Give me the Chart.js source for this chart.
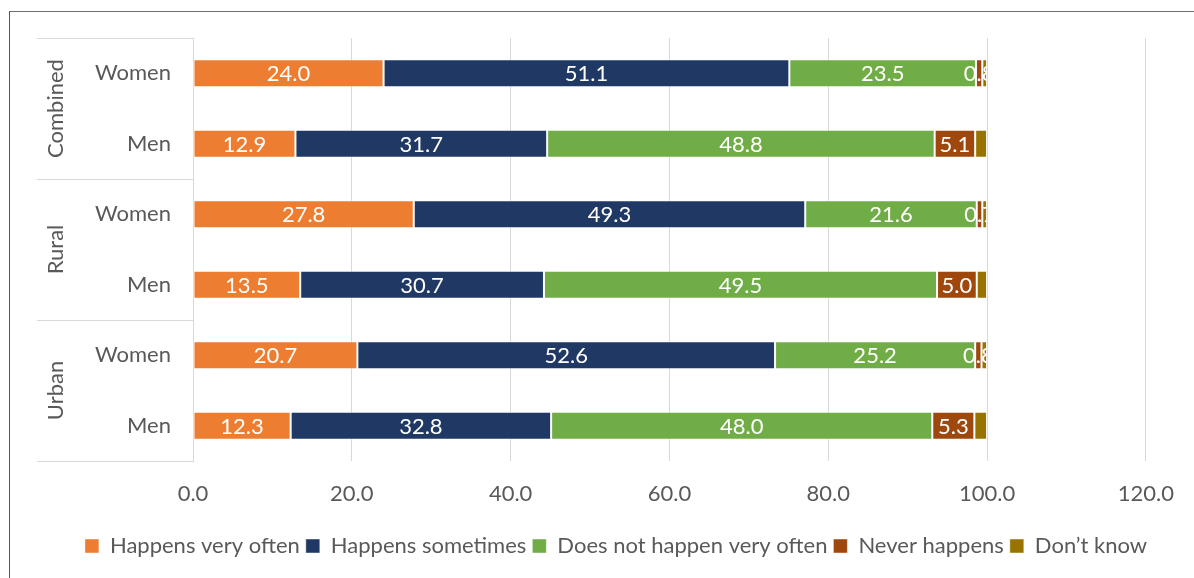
<!DOCTYPE html>
<html>
<head>
<meta charset="utf-8">
<script src="https://cdn.jsdelivr.net/npm/chart.js@4"></script>
<style>
  html, body { margin: 0; padding: 0; background: #fff; overflow: hidden; }
  #wrap { position: relative; width: 1194px; height: 578px; }
  #frame {
    position: absolute; left: 9px; top: 11px; width: 1200px; height: 600px;
    border-left: 1px solid #555; border-top: 1px solid #6f6f6f;
  }
  canvas { position: absolute; left: 0; top: 0; }
</style>
</head>
<body>
<div id="wrap">
  <div id="frame"></div>
  <canvas id="chart" width="1194" height="578"></canvas>
</div>
<script>
// Stacked survey shares by area and sex (percent)
const rows = ['Women', 'Men', 'Women', 'Men', 'Women', 'Men'];
const groups = ['Combined', 'Rural', 'Urban'];

const veryOften   = [24.0, 12.9, 27.8, 13.5, 20.7, 12.3];
const sometimes   = [51.1, 31.7, 49.3, 30.7, 52.6, 32.8];
const notVeryOft  = [23.5, 48.8, 21.6, 49.5, 25.2, 48.0];
const never       = [0.8, 5.1, 0.7, 5.0, 0.8, 5.3];
const dontKnow    = [0.6, 1.5, 0.6, 1.3, 0.7, 1.6];

const seriesNames = ['Happens very often', 'Happens sometimes', 'Does not happen very often', 'Never happens', 'Don\u2019t know'];
const seriesColors = ['#ED7D31', '#203864', '#70AD47', '#9E480E', '#997300'];
const xTicks = [0, 20, 40, 60, 80, 100, 120];

const FONT = 'Lato';
const FSIZE = 22;
const TEXT = '#595959';
const GRID = '#D9D9D9';

// value labels inside each segment, clipped to the end of the row
const barLabels = {
  id: 'barLabels',
  afterDatasetsDraw(chart) {
    const ctx = chart.ctx;
    const last = chart.getDatasetMeta(chart.data.datasets.length - 1);
    ctx.save();
    ctx.font = `${FSIZE}px ${FONT}`;
    ctx.fillStyle = '#fff';
    ctx.textAlign = 'center';
    ctx.textBaseline = 'middle';
    chart.data.datasets.forEach((ds, di) => {
      if (ds.noLabel) return;
      const meta = chart.getDatasetMeta(di);
      meta.data.forEach((bar, i) => {
        const end = last.data[i].x;
        ctx.save();
        ctx.beginPath();
        ctx.rect(chart.chartArea.left, bar.y - 20, end - chart.chartArea.left, 40);
        ctx.clip();
        ctx.fillText(ds.data[i].toFixed(1), (bar.x + bar.base) / 2, bar.y + 1);
        ctx.restore();
      });
    });
    ctx.restore();
  }
};

// two-level category axis: group separators and rotated group names
const groupAxis = {
  id: 'groupAxis',
  afterDraw(chart) {
    const ctx = chart.ctx;
    const y = chart.scales.y;
    const left = y.left;
    const right = chart.chartArea.left;
    const step = y.getPixelForValue(1) - y.getPixelForValue(0);
    ctx.save();
    ctx.strokeStyle = GRID;
    ctx.lineWidth = 1;
    const per = rows.length / groups.length;
    for (let g = 0; g <= groups.length; g++) {
      const py = Math.round(y.getPixelForValue(g * per) - step / 2) + 0.5;
      ctx.beginPath();
      ctx.moveTo(left, py);
      ctx.lineTo(right, py);
      ctx.stroke();
    }
    ctx.font = `${FSIZE}px ${FONT}`;
    ctx.fillStyle = TEXT;
    ctx.textAlign = 'center';
    ctx.textBaseline = 'middle';
    groups.forEach((name, g) => {
      const cy = (y.getPixelForValue(g * per) + y.getPixelForValue(g * per + per - 1)) / 2;
      ctx.save();
      ctx.translate(left + 19, cy);
      ctx.rotate(-Math.PI / 2);
      ctx.fillText(name, 0, 0);
      ctx.restore();
    });
    ctx.restore();
  }
};

// nudge the legend row to sit under the plot's centre
const legendShift = {
  id: 'legendShift',
  afterLayout(chart) {
    const lg = chart.legend;
    if (!lg) return;
    lg.left += 13;
    lg.right += 13;
  }
};

const seriesValues = [veryOften, sometimes, notVeryOft, never, dontKnow];

new Chart(document.getElementById('chart'), {
  type: 'bar',
  data: {
    labels: rows,
    datasets: seriesValues.map((vals, i) => ({
      label: seriesNames[i],
      data: vals,
      backgroundColor: seriesColors[i],
      borderColor: 'rgba(255,255,255,0.45)',
      borderWidth: 1,
      borderSkipped: false,
      categoryPercentage: 0.8,
      barPercentage: 0.5,
      noLabel: i === 4
    }))
  },
  options: {
    indexAxis: 'y',
    responsive: false,
    animation: false,
    layout: { padding: { left: 37, top: 38, right: 25, bottom: 11 } },
    scales: {
      x: {
        stacked: true,
        min: 0,
        max: 120,
        afterBuildTicks: s => { s.ticks = xTicks.map(v => ({ value: v })); },
        afterFit: s => { s.height = 68; },
        grid: { color: GRID, lineWidth: 1, drawTicks: false },
        border: { display: false },
        ticks: {
          padding: 20,
          color: TEXT,
          font: { family: FONT, size: FSIZE },
          callback: v => Number(v).toFixed(1)
        }
      },
      y: {
        stacked: true,
        afterFit: s => { s.width = 156; },
        grid: { display: false, drawTicks: false },
        border: { display: true, color: GRID, width: 1 },
        ticks: {
          padding: 22,
          color: TEXT,
          font: { family: FONT, size: FSIZE }
        }
      }
    },
    plugins: {
      legend: {
        position: 'bottom',
        labels: {
          boxWidth: 14,
          boxHeight: 14,
          padding: 6,
          color: TEXT,
          font: { family: FONT, size: FSIZE }
        }
      },
      tooltip: { enabled: false }
    }
  },
  plugins: [barLabels, groupAxis, legendShift]
});
</script>
</body>
</html>
